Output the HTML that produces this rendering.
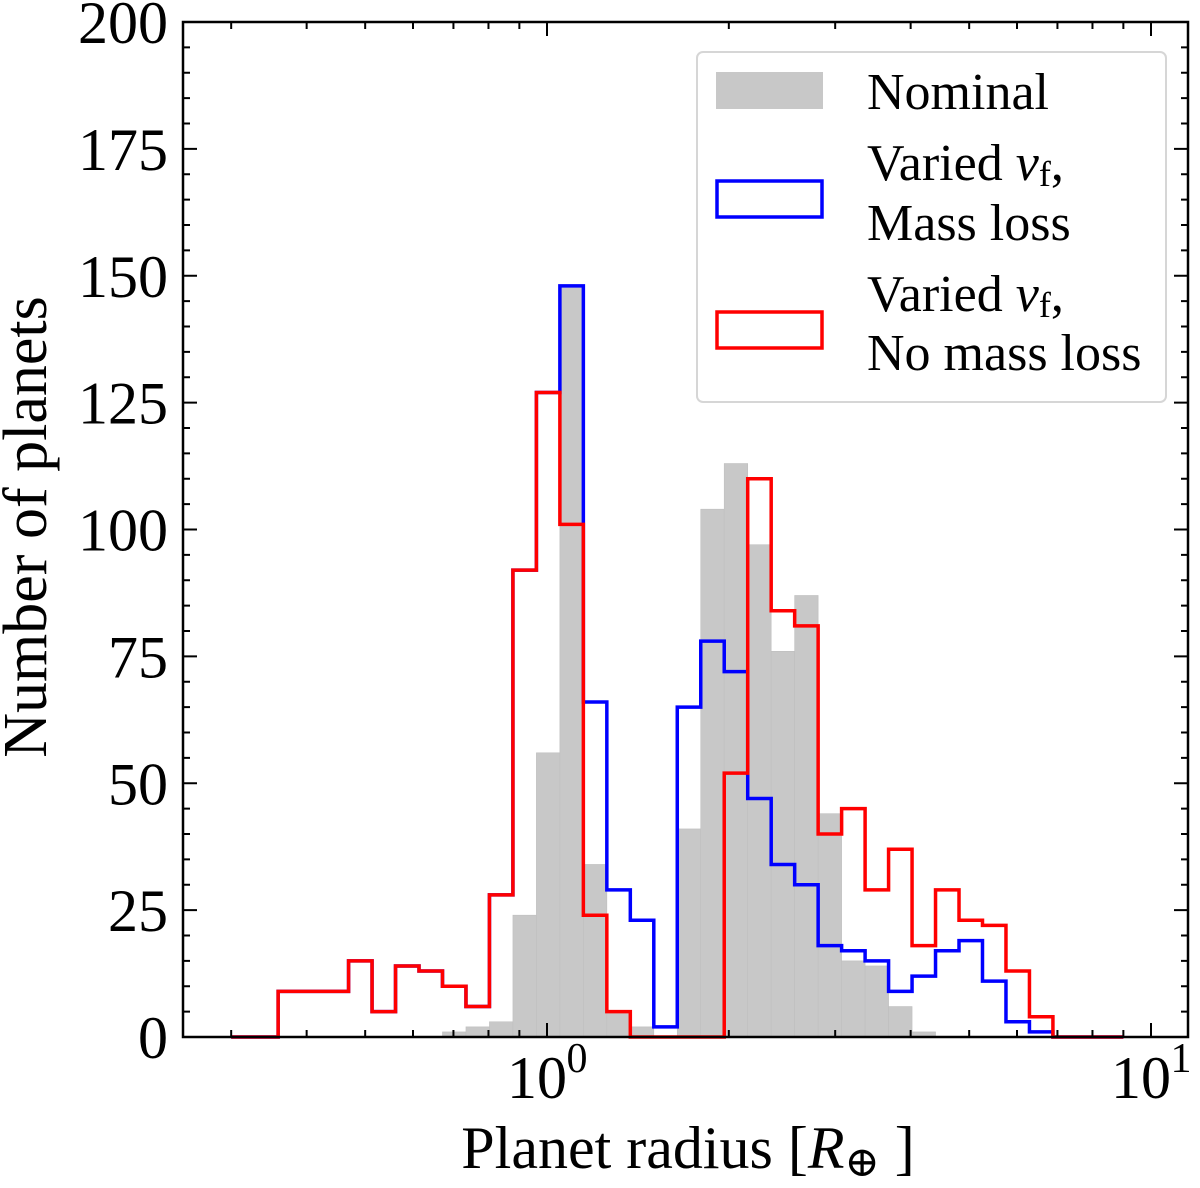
<!DOCTYPE html>
<html><head><meta charset="utf-8"><style>
html,body{margin:0;padding:0;background:#fff;}
svg{display:block;font-family:"Liberation Serif","DejaVu Serif",serif;}
</style></head><body>
<svg id="chart" width="1200" height="1188" viewBox="0 0 1200 1188" xmlns="http://www.w3.org/2000/svg">
<g id="bars"></g>
<g id="lines"></g>
<g id="axes"></g>
<g id="legend">
  <rect x="697" y="52" width="469" height="350" rx="6" fill="#fff" fill-opacity="0.85" stroke="#d6d6d6" stroke-width="2"/>
  <rect x="716" y="72" width="107" height="37" fill="#c8c8c8"/>
  <text x="867" y="109" font-size="52">Nominal</text>
  <rect x="717" y="181" width="105" height="36" fill="none" stroke="#0000ff" stroke-width="3.5"/>
  <text x="867" y="180" font-size="52">Varied <tspan font-style="italic">v</tspan><tspan font-size="36" dy="6">f</tspan><tspan dy="-6">,</tspan></text>
  <text x="867" y="240" font-size="52">Mass loss</text>
  <rect x="717" y="312" width="105" height="36" fill="none" stroke="#ff0000" stroke-width="3.5"/>
  <text x="867" y="311" font-size="52">Varied <tspan font-style="italic">v</tspan><tspan font-size="36" dy="6">f</tspan><tspan dy="-6">,</tspan></text>
  <text x="867" y="370" font-size="52">No mass loss</text>
</g>
</svg>
<script>
const binCount = 38;
const binLogStart = Math.log10(0.3);
const binLogEnd = Math.log10(9.0);
const nominalCounts = [0,0,0,0,0,0,0,0,0,1,2,3,24,56,148,34,5,2,0,41,104,113,97,76,87,44,15,14,6,1,0,0,0,0,0,0,0,0];
const massLossCounts = [0,0,9,9,9,15,5,14,13,10,6,28,92,127,148,66,29,23,2,65,78,72,47,34,30,18,17,15,9,12,17,19,11,3,1,0,0,0];
const noMassLossCounts = [0,0,9,9,9,15,5,14,13,10,6,28,92,127,101,24,5,0,0,0,0,52,110,84,81,40,45,29,37,18,29,23,22,13,4,0,0,0];
const yTicks = [0,25,50,75,100,125,150,175,200];
const xMajorTicks = [1,10];
const xMajorLabels = ["0","1"];

const NS="http://www.w3.org/2000/svg";
const L=183,R=1188,T=22,B=1037;
const X0=547, DEC=604;
function xs(v){return X0+DEC*Math.log10(v);}
function ys(v){return B-(B-T)*v/200;}
function mk(tag,attrs,parent){const e=document.createElementNS(NS,tag);for(const k in attrs)e.setAttribute(k,attrs[k]);parent.appendChild(e);return e;}
const edges=[];for(let i=0;i<=binCount;i++)edges.push(Math.pow(10,binLogStart+(binLogEnd-binLogStart)*i/binCount));

const bars=document.getElementById('bars');
nominalCounts.forEach((c,i)=>{
  if(c<=0)return;
  const r=mk('rect',{x:xs(edges[i]),y:ys(c),width:xs(edges[i+1])-xs(edges[i]),height:ys(0)-ys(c),fill:'#c8c8c8',stroke:'#bfbfbf','stroke-width':0.6},bars);
  
  
});
const lines=document.getElementById('lines');
function stepPath(arr){
  let d='M'+xs(edges[0])+','+ys(0);
  arr.forEach((c,i)=>{d+=' L'+xs(edges[i])+','+ys(c)+' L'+xs(edges[i+1])+','+ys(c);});
  d+=' L'+xs(edges[arr.length])+','+ys(0);
  return d;
}
const pb=mk('path',{d:stepPath(massLossCounts),fill:'none',stroke:'#0000ff','stroke-width':3.5,'stroke-linejoin':'miter'},lines);


const pr=mk('path',{d:stepPath(noMassLossCounts),fill:'none',stroke:'#ff0000','stroke-width':3.5,'stroke-linejoin':'miter'},lines);



const ax=document.getElementById('axes');
for(let v=0;v<=200;v+=5){
  const y=ys(v), major=(v%25===0), len=major?14:7;
  const t1=mk('line',{x1:L,x2:L+len,y1:y,y2:y,stroke:'#000','stroke-width':2},ax);
  
  
  const t2=mk('line',{x1:R,x2:R-len,y1:y,y2:y,stroke:'#000','stroke-width':2},ax);
  
  
}
yTicks.forEach(v=>{
  const t=mk('text',{x:168,y:ys(v)+21,'text-anchor':'end','font-size':60},ax);
  t.textContent=v;
  
  
});
for(let dec=-1;dec<=1;dec++){
  for(let m=1;m<10;m++){
    const v=m*Math.pow(10,dec);const x=xs(v);
    if(x<L||x>R)continue;
    const len=(m===1)?14:7;
    const t1=mk('line',{x1:x,x2:x,y1:B,y2:B-len,stroke:'#000','stroke-width':2},ax);
    
    
    const t2=mk('line',{x1:x,x2:x,y1:T,y2:T+len,stroke:'#000','stroke-width':2},ax);
    
    
  }
}
xMajorTicks.forEach((v,i)=>{
  const t=mk('text',{x:xs(v)-10,y:1098,'text-anchor':'middle','font-size':60},ax);
  t.textContent='10';
  
  
  const s=mk('text',{x:xs(v)+30,y:1072,'text-anchor':'middle','font-size':42},ax);
  s.textContent=xMajorLabels[i];
  
  
});
const fr=mk('rect',{x:L,y:T,width:R-L,height:B-T,fill:'none',stroke:'#000','stroke-width':2.5},ax);


const xl=mk('text',{x:688,y:1168,'text-anchor':'middle','font-size':60},ax);
xl.innerHTML='Planet radius [<tspan font-style="italic">R</tspan><tspan font-size="42" dy="8">⊕</tspan><tspan dy="-8"> ]</tspan>';


const yl=mk('text',{x:0,y:0,'text-anchor':'middle','font-size':62,transform:'translate(46,527) rotate(-90)'},ax);
yl.textContent='Number of planets';


</script>
</body></html>
